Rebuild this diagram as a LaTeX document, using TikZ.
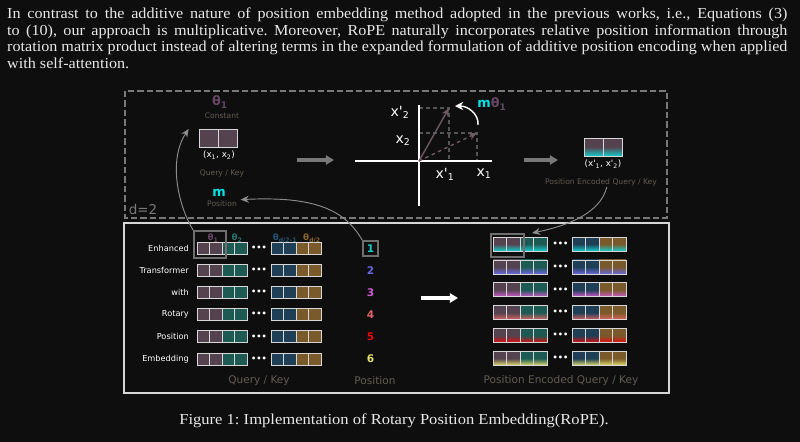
\documentclass[tikz,border=0pt]{standalone}
\usepackage{fontspec}
\setmainfont{Liberation Serif}
\newfontfamily\djv[Ligatures=TeXOff]{DejaVu Sans}
\usepackage{xcolor}
\usepackage{graphicx}
\usetikzlibrary{arrows.meta, positioning}
\frenchspacing

\definecolor{bgc}{RGB}{14,14,14}
\definecolor{paper}{RGB}{232,232,232}
\definecolor{mauve}{RGB}{84,67,79}
\definecolor{tealc}{RGB}{30,90,84}
\definecolor{navy}{RGB}{30,63,86}
\definecolor{ochre}{RGB}{122,90,42}
\definecolor{thpurple}{RGB}{100,70,100}
\definecolor{thteal}{RGB}{35,115,110}
\definecolor{thblue}{RGB}{35,85,115}
\definecolor{thochre}{RGB}{135,100,40}
\definecolor{dimtext}{RGB}{100,92,82}
\definecolor{mcyan}{RGB}{0,225,230}
\definecolor{pos1}{RGB}{20,205,205}
\definecolor{pos2}{RGB}{105,105,225}
\definecolor{pos3}{RGB}{210,90,210}
\definecolor{pos4}{RGB}{225,100,100}
\definecolor{pos5}{RGB}{230,10,10}
\definecolor{pos6}{RGB}{230,225,110}
\definecolor{cellline}{RGB}{215,215,215}
\definecolor{hlgray}{RGB}{110,110,110}
\definecolor{arrgray}{RGB}{120,120,120}
\definecolor{curvegray}{RGB}{140,140,140}
\definecolor{guide}{RGB}{85,85,85}
\definecolor{vec}{RGB}{110,88,100}

\newcommand{\wideline}[1]{\scalebox{1.06}[1]{\hbox to 22.08cm{#1}}}

\begin{document}
\begin{tikzpicture}[
    x=0.03cm, y=-0.03cm,
    paratext/.style = {anchor=base west, inner sep=0pt, text=paper, font=\fontsize{13}{15}\selectfont},
    dimlab/.style = {text=dimtext, font=\djv\fontsize{6.5}{7}\selectfont, inner sep=1pt},
    biglab/.style = {text=dimtext, font=\djv\fontsize{9}{10}\selectfont, inner sep=1pt},
    axlab/.style = {text=white, font=\djv\fontsize{12}{13}\selectfont, inner sep=0pt},
    rowlab/.style = {text=white, font=\djv\fontsize{7}{8}\selectfont, anchor=east, inner sep=0pt},
    thlab/.style = {font=\djv\bfseries\fontsize{7.5}{8}\selectfont, inner sep=0pt},
    poslab/.style = {font=\djv\bfseries\fontsize{9}{10}\selectfont, inner sep=0pt},
    bigcell/.style = {draw=cellline, line width=0.7pt, minimum width=0.57cm, minimum height=0.54cm, inner sep=0pt},
    cell/.style = {draw=cellline, line width=0.6pt, minimum width=0.375cm, minimum height=0.36cm, inner sep=0pt},
    enccell/.style = {draw=cellline, line width=0.6pt, minimum width=0.405cm, minimum height=0.42cm, inner sep=0pt},
    dots/.style = {text=white, font=\djv\bfseries\fontsize{7}{8}\selectfont, inner sep=0pt},
    hlbox/.style = {draw=hlgray, line width=1.6pt, inner sep=0pt},
    grayarrow/.style = {draw=arrgray, line width=2.6pt, -{Triangle[length=7pt, width=8pt]}},
    thinarrow/.style = {draw=curvegray, line width=0.8pt, -{Stealth[length=7pt, width=6pt]}},
    vecarrow/.style = {draw=vec, line width=1.2pt, -{Stealth[length=7pt, width=6pt]}}
]
    \fill[bgc] (0,0) rectangle (800,442);
    \useasboundingbox (0,0) rectangle (800,442);

    % Text above and caption
    \node[paratext] (par1) at (7,18.5) {\wideline{In contrast to the additive nature of position embedding method adopted in the previous works, i.e., Equations (3)}};
    \node[paratext] (par2) at (7,35.2) {\wideline{to (10), our approach is multiplicative. Moreover, RoPE naturally incorporates relative position information through}};
    \node[paratext] (par3) at (7,51.9) {\wideline{rotation matrix product instead of altering terms in the expanded formulation of additive position encoding when applied}};
    \node[paratext] (par4) at (7,68.6) {\scalebox{1.06}[1]{with self-attention.}};
    \node[paratext, anchor=base] (cap) at (394,424) {\scalebox{1.088}[1]{Figure 1: Implementation of Rotary Position Embedding(RoPE).}};

    % Frames
    \draw[arrgray, line width=1.7pt, dash pattern=on 5.5pt off 2.6pt] (125,91) rectangle (667,218);
    \draw[cellline, line width=1.5pt] (124,223) rectangle (669,393);
    \node[text=arrgray, font=\djv\fontsize{11.5}{12}\selectfont, inner sep=0pt] (dlab) at (143,209) {d=2};

    % Query / Key with d=2
    \node[font=\djv\bfseries\fontsize{11}{12}\selectfont, text=thpurple, inner sep=0pt] (th) at (220,102) {θ\textsubscript{1}};
    \node[dimlab] (const) at (222,116) {Constant};
    \node[bigcell, fill=mauve] (qa) at (209.2,138.3) {};
    \node[bigcell, fill=mauve] (qb) at (228.2,138.3) {};
    \node[text=white, font=\djv\fontsize{7.5}{8}\selectfont, inner sep=0pt] (xy) at (219,155) {(x\textsubscript{1}, x\textsubscript{2})};
    \node[dimlab] (qk) at (222,173) {Query / Key};
    \node[font=\djv\bfseries\fontsize{11}{12}\selectfont, text=mcyan, inner sep=0pt] (m) at (219,193) {m};
    \node[dimlab] (mpos) at (222,204) {Position};

    % Rotation
    \coordinate (o) at (419,161);
    \coordinate (v1) at (477,133);
    \coordinate (v2) at (449,108);
    \draw[guide, line width=0.9pt, dashed] (v2 -| o) -- (v2) -- (v2 |- o);
    \draw[guide, line width=0.9pt, dashed] (v1 -| o) -- (v1) -- (v1 |- o);
    \draw[white, line width=1.6pt] (355,161) -- (492,161);
    \draw[white, line width=1.6pt] (419,105) -- (419,206);
    \draw[vecarrow, dashed] (o) -- (v1);
    \draw[vecarrow] (o) -- (v2);
    \node[axlab] (x2p) at (400,112) {x'\textsubscript{2}};
    \node[axlab] (x2) at (403,141) {x\textsubscript{2}};
    \node[axlab] (x1p) at (445,174) {x'\textsubscript{1}};
    \node[axlab] (x1) at (484,174) {x\textsubscript{1}};
    \coordinate (rot-s) at (478,125);
    \coordinate (rot-e) at (455,106);
    \draw[white, line width=1.2pt, -{Stealth[length=7pt, width=7pt]}] (rot-s) .. controls (479,114) and (468,106) .. (rot-e);
    \node[font=\djv\bfseries\fontsize{11}{12}\selectfont, inner sep=0pt] (mth) at (492,104) {\textcolor{mcyan}{m}\textcolor{thpurple}{θ\textsubscript{1}}};

    % Encoded pair
    \node[bigcell, top color=mauve, bottom color=pos1, middle color=mauve] (ea) at (593.8,147) {};
    \node[bigcell, top color=mauve, bottom color=pos1, middle color=mauve] (eb) at (612.8,147) {};
    \node[text=white, font=\djv\fontsize{7.5}{8}\selectfont, inner sep=0pt] (xyp) at (603,164) {(x'\textsubscript{1}, x'\textsubscript{2})};
    \node[dimlab] (penc) at (601,182) {Position Encoded Query / Key};

    \coordinate (a1s) at (297,160);
    \coordinate (a1e) at (334,160);
    \coordinate (a2s) at (524,160);
    \coordinate (a2e) at (558,160);
    \draw[grayarrow] (a1s) -- (a1e);
    \draw[grayarrow] (a2s) -- (a2e);

    % Rows
    \foreach \r/\pc/\lab in {1/pos1/Enhanced, 2/pos2/Transformer, 3/pos3/with, 4/pos4/Rotary, 5/pos5/Position, 6/pos6/Embedding}{
        \pgfmathsetmacro\yl{248.4+22.1*(\r-1)}
        \pgfmathsetmacro\yr{244+22.9*(\r-1)}
        \node[rowlab] (lab\r) at (189,\yl) {\lab};
        \foreach \c/\x/\col in {1/203.3/mauve, 2/215.8/mauve, 3/228.3/tealc, 4/240.8/tealc, 5/277.3/navy, 6/289.8/navy, 7/302.3/ochre, 8/314.8/ochre}
            \node[cell, fill=\col] (q\r-\c) at (\x,\yl) {};
        \node[dots] (qd\r) at (259,\yl) {•••};
        \node[poslab, text=\pc] (p\r) at (370.5,\yl) {\r};
        \foreach \c/\x/\col in {1/499.8/mauve, 2/513.3/mauve, 3/526.8/tealc, 4/540.3/tealc, 5/578.8/navy, 6/592.3/navy, 7/605.8/ochre, 8/619.3/ochre}
            \node[enccell, top color=\col, bottom color=\pc, middle color=\col] (e\r-\c) at (\x,\yr) {};
        \node[dots] (ed\r) at (560.5,\yr) {•••};
    }

    % Frequencies
    \node[thlab, text=thpurple] (t1) at (213,238) {θ\textsubscript{1}};
    \node[thlab, text=thteal] (t2) at (237,238) {θ\textsubscript{2}};
    \node[thlab, text=thblue] (t3) at (285,238) {θ\textsubscript{d/2-1}};
    \node[thlab, text=thochre] (t4) at (312,238) {θ\textsubscript{d/2}};

    % Highlights
    \node[hlbox, minimum width=0.96cm, minimum height=0.81cm] (hl1) at (210,244.5) {};
    \node[hlbox, minimum width=0.99cm, minimum height=0.69cm] (hl2) at (507.5,245.5) {};
    \node[hlbox, minimum size=0.44cm] (p1box) at (p1) {};

    \node[biglab] (qklab) at (259,381) {Query / Key};
    \node[biglab] (poslab) at (375,381) {Position};
    \node[biglab] (enclab) at (561,381) {Position Encoded Query / Key};

    % Arrows
    \coordinate (a3s) at (421,298);
    \coordinate (a3e) at (458,298);
    \draw[white, line width=2.8pt, -{Triangle[length=7pt, width=8pt]}] (a3s) -- (a3e);
    \draw[thinarrow] (hl1.north west) .. controls (178,205) and (168,160) .. ([xshift=-9pt]qa.north west);
    \draw[thinarrow] (p1box.north west) .. controls (345,210) and (315,196) .. ([xshift=2pt]mpos.north east);
    \draw[thinarrow] ([xshift=5pt]penc.south) .. controls (600,214) and (566,226) .. ([xshift=6pt]hl2.north east);

\end{tikzpicture}
\end{document}
